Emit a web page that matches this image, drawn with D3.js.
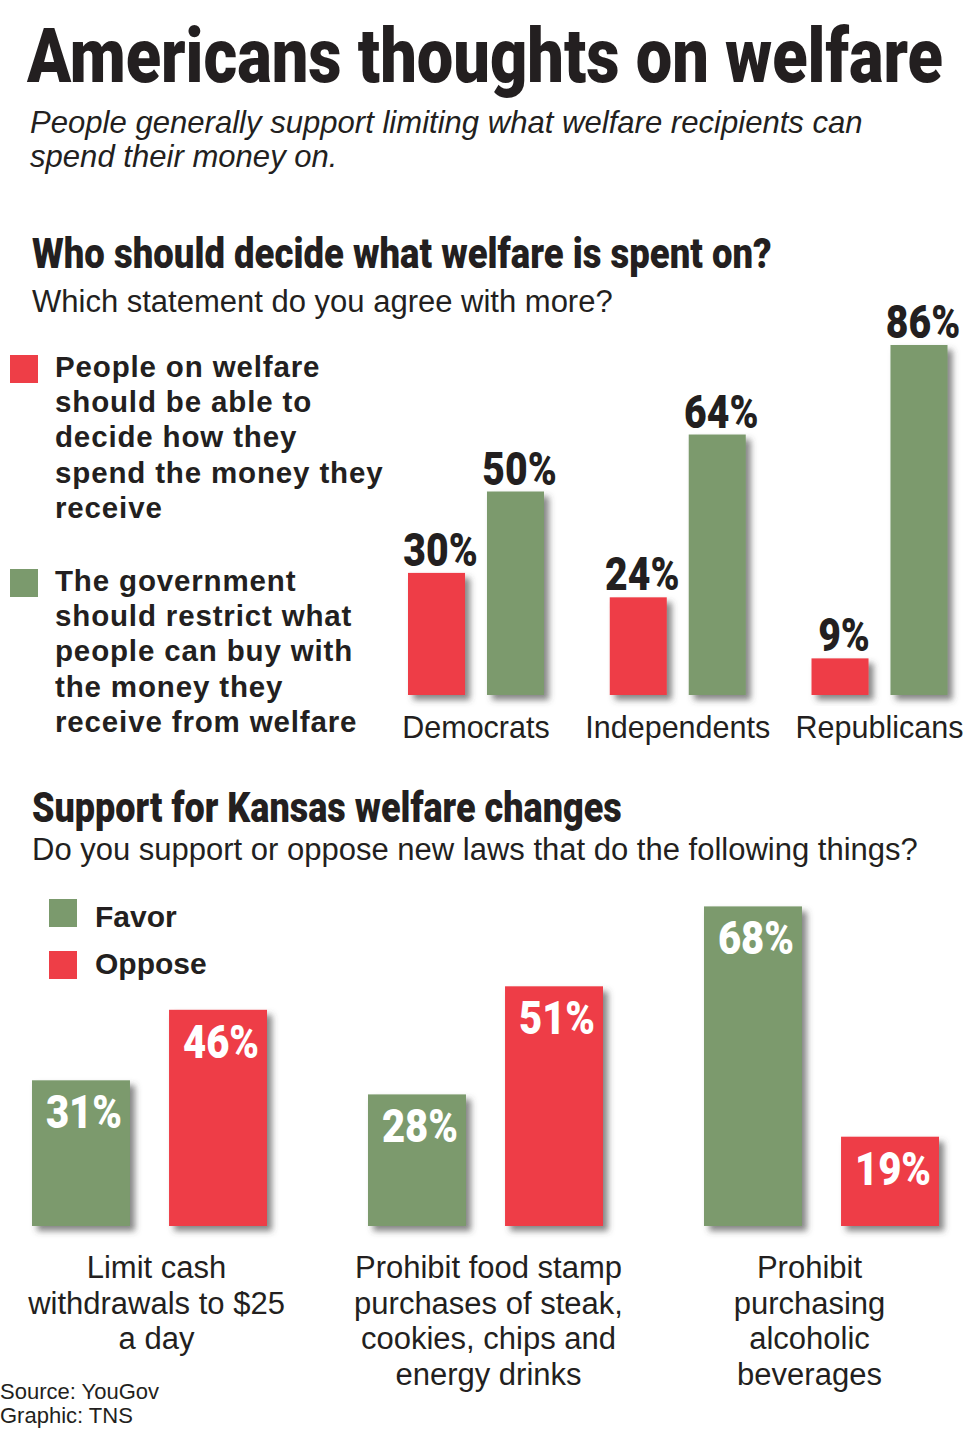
<!DOCTYPE html>
<html>
<head>
<meta charset="utf-8">
<script src="https://cdn.jsdelivr.net/npm/d3@7"></script>
<style>
  html, body { margin: 0; padding: 0; background: #fff; }
  svg { display: block; }
  .reg { font-family: "Liberation Sans", Arial, Helvetica, sans-serif; fill: #231f20; }
  .heavy { font-family: Roboto, "Liberation Sans", sans-serif; font-weight: 900; fill: #231f20; }
  .bold { font-family: "Liberation Sans", Arial, sans-serif; font-weight: bold; fill: #231f20; }
</style>
</head>
<body>
<div id="chart"></div>
<script>
// data
const partyCategories = ['Democrats', 'Independents', 'Republicans'];
const decideValues = [30, 24, 9];      // people on welfare should decide
const restrictValues = [50, 64, 86];   // government should restrict
const lawLabels = [
  ['Limit cash', 'withdrawals to $25', 'a day'],
  ['Prohibit food stamp', 'purchases of steak,', 'cookies, chips and', 'energy drinks'],
  ['Prohibit', 'purchasing', 'alcoholic', 'beverages']
];
const favorValues = [31, 28, 68];
const opposeValues = [46, 51, 19];

const RED = '#ee3e47';
const GREEN = '#7b9a6d';
const labelShift = [7, 3, -12]; // captions under the lower chart are not quite centred

const width = 967, height = 1431;
const svg = d3.select('#chart').append('svg')
  .attr('width', width)
  .attr('height', height);

// soft shadow under the bars
const defs = svg.append('defs');
defs.append('filter')
  .attr('id', 'shadow')
  .attr('x', '-20%').attr('y', '-20%').attr('width', '150%').attr('height', '150%')
  .append('feDropShadow')
  .attr('dx', 5).attr('dy', 5).attr('stdDeviation', 3)
  .attr('flood-color', '#444').attr('flood-opacity', 0.65);

// squeeze a text horizontally so that it spans `w` pixels from x
function fitText(sel, x, w) {
  const len = sel.select('text').node().getComputedTextLength();
  sel.attr('transform', `translate(${x},0) scale(${w / len},1)`);
}

// title block
const title = svg.append('g');
title.append('text').attr('class', 'heavy')
  .attr('x', 0).attr('y', 82)
  .attr('font-size', 76)
  .text('Americans thoughts on welfare');
fitText(title, 27, 916);

const sub = svg.append('g').attr('class', 'reg').attr('font-style', 'italic').attr('font-size', 31);
sub.append('text').attr('x', 0).attr('y', 133)
  .text('People generally support limiting what welfare recipients can');
sub.append('text').attr('x', 0).attr('y', 167).text('spend their money on.');
fitText(sub, 30, 833);

// section 1
const head1 = svg.append('g');
head1.append('text').attr('class', 'heavy')
  .attr('x', 0).attr('y', 268)
  .attr('font-size', 43)
  .text('Who should decide what welfare is spent on?');
fitText(head1, 32, 740);
svg.append('text').attr('class', 'reg')
  .attr('x', 32).attr('y', 312).attr('font-size', 31)
  .text('Which statement do you agree with more?');

const legendTop = [
  { color: RED, y: 355, lines: ['People on welfare', 'should be able to', 'decide how they', 'spend the money they', 'receive'] },
  { color: GREEN, y: 569, lines: ['The government', 'should restrict what', 'people can buy with', 'the money they', 'receive from welfare'] }
];
legendTop.forEach(item => {
  svg.append('rect').attr('x', 10).attr('y', item.y).attr('width', 28).attr('height', 28).attr('fill', item.color);
  svg.append('text').attr('class', 'bold').attr('font-size', 29.5)
    .attr('letter-spacing', 0.85)
    .selectAll('tspan').data(item.lines).enter().append('tspan')
    .attr('x', 55).attr('y', (d, i) => item.y + 22 + i * 35.2)
    .text(d => d);
});

// top bar chart
const x0 = d3.scalePoint().domain(partyCategories).range([476, 879.5]);
const x1 = d3.scaleBand().domain(['decide', 'restrict']).range([-68, 68]).paddingInner(0.278);
const y0 = d3.scaleLinear().domain([0, 100]).range([695, 288]);

const topData = partyCategories.flatMap((c, i) => [
  { cat: c, key: 'decide', value: decideValues[i], color: RED },
  { cat: c, key: 'restrict', value: restrictValues[i], color: GREEN }
]);

svg.append('g').selectAll('rect').data(topData).enter().append('rect')
  .attr('x', d => x0(d.cat) + x1(d.key))
  .attr('y', d => y0(d.value))
  .attr('width', x1.bandwidth())
  .attr('height', d => y0(0) - y0(d.value))
  .attr('fill', d => d.color)
  .attr('filter', 'url(#shadow)');

svg.append('g').selectAll('text').data(topData).enter().append('text')
  .attr('class', 'heavy')
  .attr('font-size', 46)
  .attr('text-anchor', 'middle')
  .attr('transform', d => `translate(${x0(d.cat) + x1(d.key) + x1.bandwidth() / 2 + 4},${y0(d.value) - 7}) scale(0.85,1)`)
  .text(d => d.value + '%');

svg.append('g').selectAll('text').data(partyCategories).enter().append('text')
  .attr('class', 'reg')
  .attr('font-size', 30.5)
  .attr('text-anchor', 'middle')
  .attr('x', d => x0(d))
  .attr('y', 738)
  .text(d => d);

// section 2
const head2 = svg.append('g');
head2.append('text').attr('class', 'heavy')
  .attr('x', 0).attr('y', 822)
  .attr('font-size', 43)
  .text('Support for Kansas welfare changes');
fitText(head2, 32, 590);
svg.append('text').attr('class', 'reg')
  .attr('x', 32).attr('y', 860).attr('font-size', 31)
  .text('Do you support or oppose new laws that do the following things?');

const legendBottom = [
  { color: GREEN, y: 899, base: 927, label: 'Favor' },
  { color: RED, y: 951, base: 974, label: 'Oppose' }
];
legendBottom.forEach(item => {
  svg.append('rect').attr('x', 49).attr('y', item.y).attr('width', 28).attr('height', 28).attr('fill', item.color);
  svg.append('text').attr('class', 'bold').attr('font-size', 30)
    .attr('x', 95).attr('y', item.base).text(item.label);
});

const groups = d3.range(lawLabels.length);
const gx = d3.scalePoint().domain(groups).range([149.5, 821.5]);
const gx1 = d3.scaleBand().domain(['favor', 'oppose']).range([-117.5, 117.5]).paddingInner(0.285);
const gy = d3.scaleLinear().domain([0, 100]).range([1226, 756]);

const lawData = groups.flatMap(i => [
  { g: i, key: 'favor', value: favorValues[i], color: GREEN },
  { g: i, key: 'oppose', value: opposeValues[i], color: RED }
]);

svg.append('g').selectAll('rect').data(lawData).enter().append('rect')
  .attr('x', d => gx(d.g) + gx1(d.key))
  .attr('y', d => gy(d.value))
  .attr('width', gx1.bandwidth())
  .attr('height', d => gy(0) - gy(d.value))
  .attr('fill', d => d.color)
  .attr('filter', 'url(#shadow)');

svg.append('g').selectAll('text').data(lawData).enter().append('text')
  .attr('class', 'heavy')
  .style('fill', '#fff')
  .attr('font-size', 46)
  .attr('text-anchor', 'middle')
  .attr('transform', d => `translate(${gx(d.g) + gx1(d.key) + gx1.bandwidth() / 2 + 3},${gy(d.value) + 48}) scale(0.87,1)`)
  .text(d => d.value + '%');

groups.forEach(i => {
  svg.append('text').attr('class', 'reg')
    .attr('font-size', 31)
    .attr('text-anchor', 'middle')
    .selectAll('tspan').data(lawLabels[i]).enter().append('tspan')
    .attr('x', gx(i) + labelShift[i])
    .attr('y', (d, j) => 1278 + j * 35.5)
    .text(d => d);
});

// credits
svg.append('text').attr('class', 'reg').attr('font-size', 22)
  .selectAll('tspan').data(['Source: YouGov', 'Graphic: TNS']).enter().append('tspan')
  .attr('x', 0).attr('y', (d, i) => 1399 + i * 24)
  .text(d => d);
</script>
</body>
</html>
